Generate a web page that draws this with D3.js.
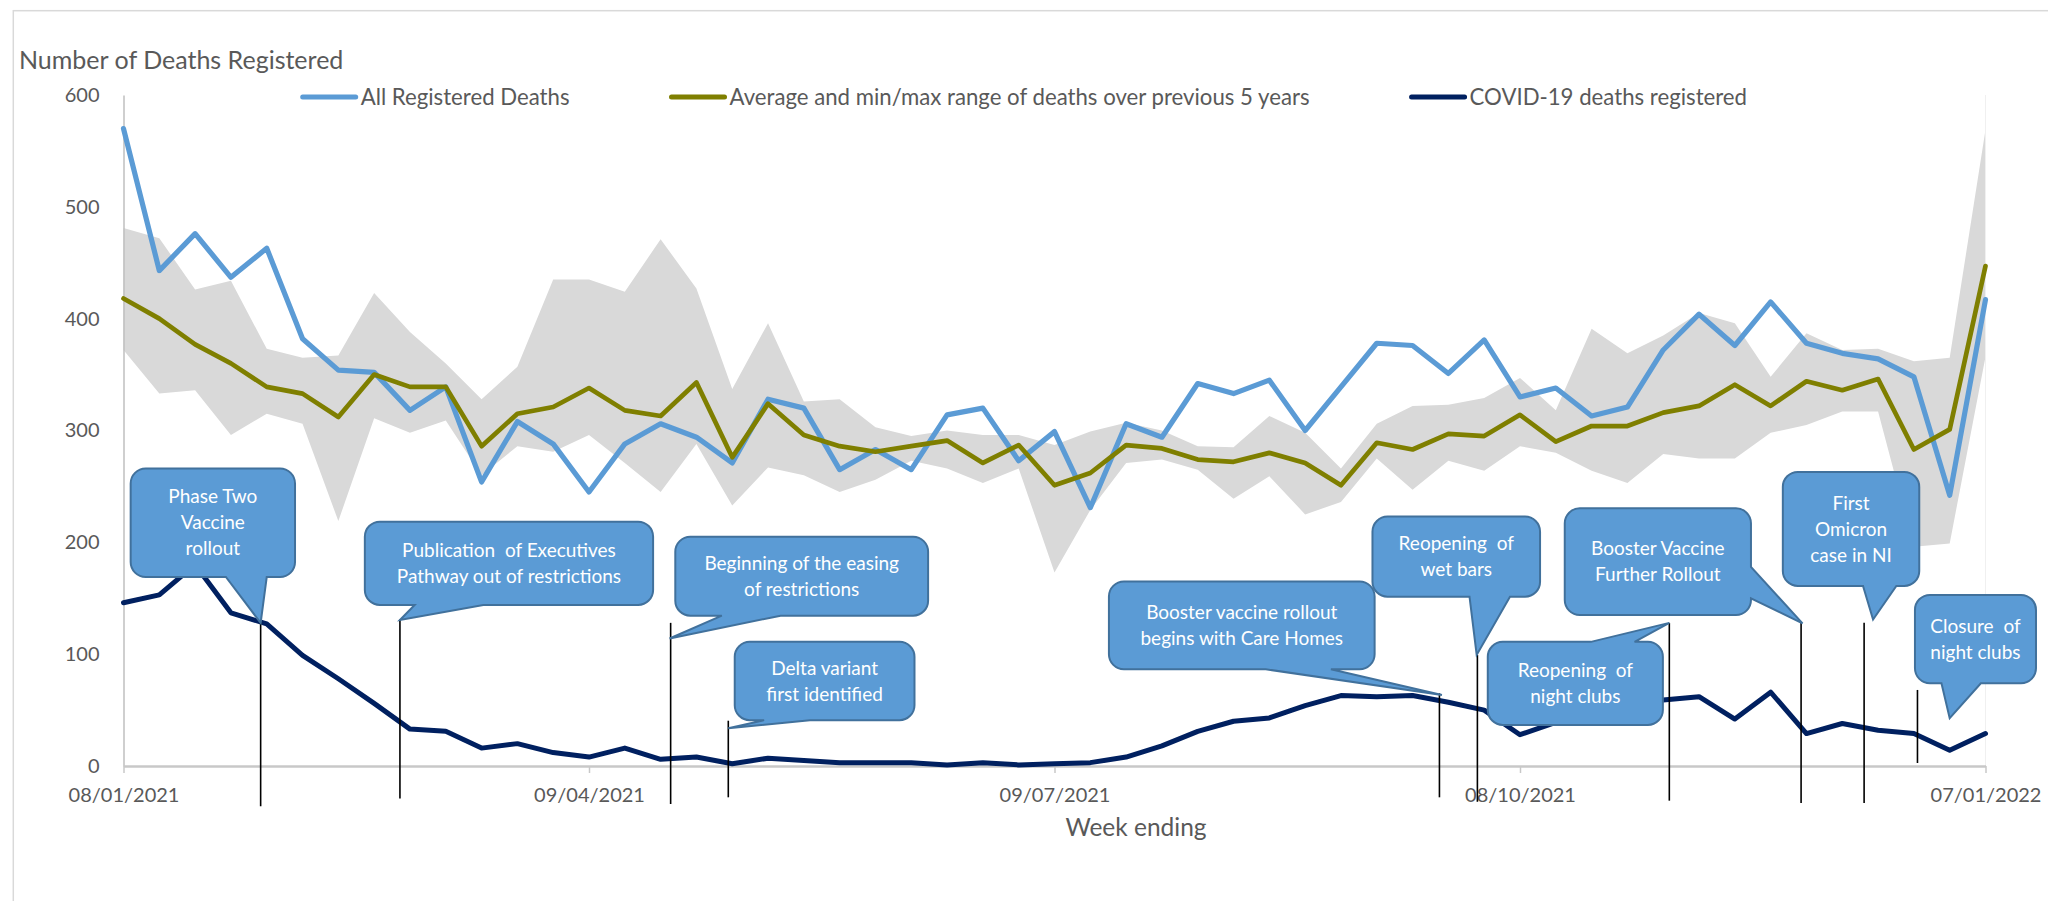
<!DOCTYPE html>
<html>
<head>
<meta charset="utf-8">
<script src="https://cdn.jsdelivr.net/npm/d3@7"></script>
<style>
  html, body { margin: 0; padding: 0; background: #ffffff; }
  svg { display: block; }
  text { font-family: Lato, "Open Sans", sans-serif; }
</style>
</head>
<body>
<svg id="chart" width="2048" height="901"></svg>
<script>
// ---------------- DATA ----------------
const weekEnding = [
  "2021-01-08","2021-01-15","2021-01-22","2021-01-29","2021-02-05","2021-02-12","2021-02-19","2021-02-26",
  "2021-03-05","2021-03-12","2021-03-19","2021-03-26","2021-04-02","2021-04-09","2021-04-16","2021-04-23",
  "2021-04-30","2021-05-07","2021-05-14","2021-05-21","2021-05-28","2021-06-04","2021-06-11","2021-06-18",
  "2021-06-25","2021-07-02","2021-07-09","2021-07-16","2021-07-23","2021-07-30","2021-08-06","2021-08-13",
  "2021-08-20","2021-08-27","2021-09-03","2021-09-10","2021-09-17","2021-09-24","2021-10-01","2021-10-08",
  "2021-10-15","2021-10-22","2021-10-29","2021-11-05","2021-11-12","2021-11-19","2021-11-26","2021-12-03",
  "2021-12-10","2021-12-17","2021-12-24","2021-12-31","2022-01-07"
];

const allDeaths = [570,443,476,437,463,382,354,352,318,339,254,308,288,245,288,306,294,271,328,320,
  265,283,265,314,320,273,299,231,306,294,342,333,345,300,339,378,376,351,381,330,
  338,313,321,372,404,376,415,378,369,364,348,242,417];

const avg5yr = [418,400,377,360,339,333,312,350,339,339,286,315,321,338,318,313,343,276,324,296,
  286,281,286,291,271,287,251,262,287,284,274,272,280,271,251,289,283,297,295,314,
  290,304,304,316,322,341,322,344,336,346,283,301,447];

const max5yr = [481,472,426,434,373,365,367,423,388,360,328,357,435,435,424,471,427,337,396,326,
  328,303,295,300,296,296,287,299,307,300,286,285,313,298,266,306,322,323,329,347,
  318,391,369,385,405,396,348,387,372,373,362,365,569];

const min5yr = [372,333,336,296,315,306,219,311,298,309,260,286,281,296,271,245,288,233,267,260,
  245,256,273,266,253,266,173,229,271,274,265,239,259,225,236,275,247,273,264,286,
  280,264,253,279,275,275,298,305,317,317,196,199,366];

const covidDeaths = [146,153,180,137,127,99,78,56,33,31,16,20,12,8,16,6,8,2,7,5,
  3,3,3,1,3,1,2,3,8,18,31,40,43,54,63,62,63,57,50,28,
  39,48,57,59,62,42,66,29,38,32,29,14,29];

const yTicks = [0,100,200,300,400,500,600];
const xTickDates = ["2021-01-08","2021-04-09","2021-07-09","2021-10-08","2022-01-07"];

const seriesNames = ["All Registered Deaths",
  "Average and min/max range of deaths over previous 5 years",
  "COVID-19 deaths registered"];

// Annotations (positions in week-index / deaths units)
const annotationTexts = [
  ["Phase Two","Vaccine","rollout"],
  ["Publication  of Executives","Pathway out of restrictions"],
  ["Beginning of the easing","of restrictions"],
  ["Delta variant","first identified"],
  ["Booster vaccine rollout","begins with Care Homes"],
  ["Reopening  of","wet bars"],
  ["Reopening  of","night clubs"],
  ["Booster Vaccine","Further Rollout"],
  ["First","Omicron","case in NI"],
  ["Closure  of","night clubs"]
];
// box: [w0,w1,vTop,vBottom]; tail: side, a, b, tip [w,v]; line: [w, vTop, vBottom]
const annotationLayout = [
  {box:[0.20,4.79,266,169],  tail:{side:"bottom",a:2.86,b:4.00,tip:[3.83,128]},   line:[3.83,128,-36]},
  {box:[6.74,14.79,218.5,144], tail:{side:"bottom",a:8.13,b:10.05,tip:[7.72,130.5]}, line:[7.72,131,-29]},
  {box:[15.41,22.47,205,134.4], tail:{side:"bottom",a:16.71,b:18.35,tip:[15.25,114]}, line:[15.28,128,-34]},
  {box:[17.07,22.09,111,41], tail:{side:"bottom",a:17.89,b:19.17,tip:[16.89,33.7]}, line:[16.89,40.5,-28]},
  {box:[27.52,34.94,165,86.5], tail:{side:"bottom",a:31.90,b:33.72,tip:[36.82,63.5]}, line:[36.75,65,-28]},
  {box:[34.88,39.56,223,151.4], tail:{side:"bottom",a:37.59,b:38.72,tip:[37.79,99.3]}, line:[37.81,99.3,-32]},
  {box:[38.10,42.99,111,36.7], tail:{side:"top",a:40.98,b:42.20,tip:[43.17,128]}, line:[43.17,128,-31]},
  {box:[40.25,45.45,230.4,135], tail:{side:"right",a:178,b:150,tip:[46.89,127.6]}, line:[46.85,128,-33]},
  {box:[46.34,50.15,263,161], tail:{side:"bottom",a:48.58,b:49.51,tip:[48.86,131]}, line:[48.61,128,-33]},
  {box:[50.03,53.41,153,74], tail:{side:"bottom",a:50.77,b:51.87,tip:[51.0,42.7]}, line:[50.10,68,2.7]}
];

// ---------------- CHART ----------------
const W = 2048, H = 901;
const svg = d3.select("#chart");
const parse = d3.timeParse("%Y-%m-%d");
const dates = weekEnding.map(parse);

const x = d3.scaleTime().domain([dates[0], dates[dates.length-1]]).range([123.5, 1985.5]);
const y = d3.scaleLinear().domain([0, 600]).range([766, 95]);
const xw = d3.scaleLinear().domain([0, dates.length-1]).range(x.range()); // week index

const TEXT = "#595959";
const C_BLUE = "#5B9BD5", C_GREEN = "#7F7F00", C_NAVY = "#002060", C_BAND = "#D9D9D9";

svg.append("rect").attr("width", W).attr("height", H).attr("fill", "#fff");
// chart area border
svg.append("rect").attr("x", 13.3).attr("y", 10.7).attr("width", 2100).attr("height", 1000)
  .attr("fill", "none").attr("stroke", "#d9d9d9").attr("stroke-width", 1.5);

// axis title
svg.append("text").attr("x", 19).attr("y", 69).attr("font-size", 25).attr("fill", TEXT)
  .text("Number of Deaths Registered");

// band
const band = d3.area().x((d,i)=>x(dates[i])).y0((d,i)=>y(min5yr[i])).y1((d,i)=>y(max5yr[i]));
svg.append("path").datum(dates).attr("d", band).attr("fill", C_BAND);

// faint right border line
svg.append("line").attr("x1", x.range()[1]).attr("x2", x.range()[1]).attr("y1", y(600)).attr("y2", y(0))
  .attr("stroke", "#f0f0f0").attr("stroke-width", 1);

// y axis
const yAxis = svg.append("g").attr("transform", `translate(${x.range()[0]},0)`)
  .call(d3.axisLeft(y).tickValues(yTicks).tickSize(0).tickPadding(24).tickSizeOuter(0));
yAxis.select(".domain").attr("stroke", "#bfbfbf").attr("stroke-width", 1.5);
yAxis.selectAll("text").attr("font-size", 20).attr("fill", TEXT).attr("font-family", "Lato, sans-serif");

// lines
function lineOf(arr){ return d3.line().x((d,i)=>x(dates[i])).y((d,i)=>y(arr[i])); }
svg.append("path").datum(dates).attr("d", lineOf(allDeaths)).attr("fill","none")
  .attr("stroke", C_BLUE).attr("stroke-width", 5.2).attr("stroke-linejoin","round").attr("stroke-linecap","round");
svg.append("path").datum(dates).attr("d", lineOf(avg5yr)).attr("fill","none")
  .attr("stroke", C_GREEN).attr("stroke-width", 4.7).attr("stroke-linejoin","round").attr("stroke-linecap","round");

// x axis
const xAxis = svg.append("g").attr("transform", `translate(0,${y(0)})`)
  .call(d3.axisBottom(x).tickValues(xTickDates.map(parse)).tickFormat(d3.timeFormat("%d/%m/%Y"))
    .tickSize(7).tickSizeOuter(0).tickPadding(15));
xAxis.select(".domain").attr("stroke", "#c8c8c8").attr("stroke-width", 2.5);
xAxis.selectAll(".tick line").attr("stroke", "#c8c8c8").attr("stroke-width", 1.5);
xAxis.selectAll("text").attr("font-size", 20).attr("fill", TEXT).attr("font-family", "Lato, sans-serif");

svg.append("path").datum(dates).attr("d", lineOf(covidDeaths)).attr("fill","none")
  .attr("stroke", C_NAVY).attr("stroke-width", 5).attr("stroke-linejoin","round").attr("stroke-linecap","round");

// x axis title
svg.append("text").attr("x", 1136).attr("y", 836).attr("text-anchor","middle")
  .attr("font-size", 24.5).attr("fill", TEXT).text("Week ending");

// legend
const legendColors = [C_BLUE, C_GREEN, C_NAVY];
let lx = 302.7;
const ly = 97;
seriesNames.forEach((name, i) => {
  svg.append("line").attr("x1", lx).attr("x2", lx + 53).attr("y1", ly).attr("y2", ly)
    .attr("stroke", legendColors[i]).attr("stroke-width", 5).attr("stroke-linecap", "round");
  const t = svg.append("text").attr("x", lx + 58).attr("y", ly).attr("dy", "0.35em")
    .attr("font-size", 22.2).attr("fill", TEXT).text(name);
  lx += 58 + t.node().getComputedTextLength() + 102;
});

// annotations
const lineG = svg.append("g");
const calloutG = svg.append("g");
function calloutPath(L){
  const [w0,w1,vt,vb] = L.box;
  const x0 = xw(w0), x1 = xw(w1), y0 = y(vt), y1 = y(vb);
  const r = Math.min(15, (y1-y0)/4);
  const t = L.tail;
  const tip = [xw(t.tip[0]), y(t.tip[1])];
  const p = d3.path();
  p.moveTo(x0 + r, y0);
  if (t.side === "top") { p.lineTo(xw(t.a), y0); p.lineTo(tip[0], tip[1]); p.lineTo(xw(t.b), y0); }
  p.lineTo(x1 - r, y0);
  p.arcTo(x1, y0, x1, y0 + r, r);
  if (t.side === "right") { p.lineTo(x1, y(t.a)); p.lineTo(tip[0], tip[1]); p.lineTo(x1, y(t.b)); }
  p.lineTo(x1, y1 - r);
  p.arcTo(x1, y1, x1 - r, y1, r);
  if (t.side === "bottom") { p.lineTo(xw(t.b), y1); p.lineTo(tip[0], tip[1]); p.lineTo(xw(t.a), y1); }
  p.lineTo(x0 + r, y1);
  p.arcTo(x0, y1, x0, y1 - r, r);
  p.lineTo(x0, y0 + r);
  p.arcTo(x0, y0, x0 + r, y0, r);
  p.closePath();
  return p.toString();
}
annotationLayout.forEach((L, i) => {
  lineG.append("line").attr("x1", xw(L.line[0])).attr("x2", xw(L.line[0]))
    .attr("y1", y(L.line[1])).attr("y2", y(L.line[2]))
    .attr("stroke", "#000").attr("stroke-width", 1.6);
  calloutG.append("path").attr("d", calloutPath(L)).attr("fill", "#5B9BD5")
    .attr("stroke", "#41719C").attr("stroke-width", 2);
  const cx = (xw(L.box[0]) + xw(L.box[1])) / 2;
  const cy = (y(L.box[2]) + y(L.box[3])) / 2;
  const lines = annotationTexts[i];
  const lh = 26;
  lines.forEach((s, k) => {
    calloutG.append("text").attr("x", cx).attr("y", cy + (k - (lines.length-1)/2) * lh)
      .attr("dy", "0.35em").attr("text-anchor", "middle").attr("font-size", 19)
      .attr("fill", "#ffffff").style("white-space", "pre").text(s);
  });
});
</script>
</body>
</html>
